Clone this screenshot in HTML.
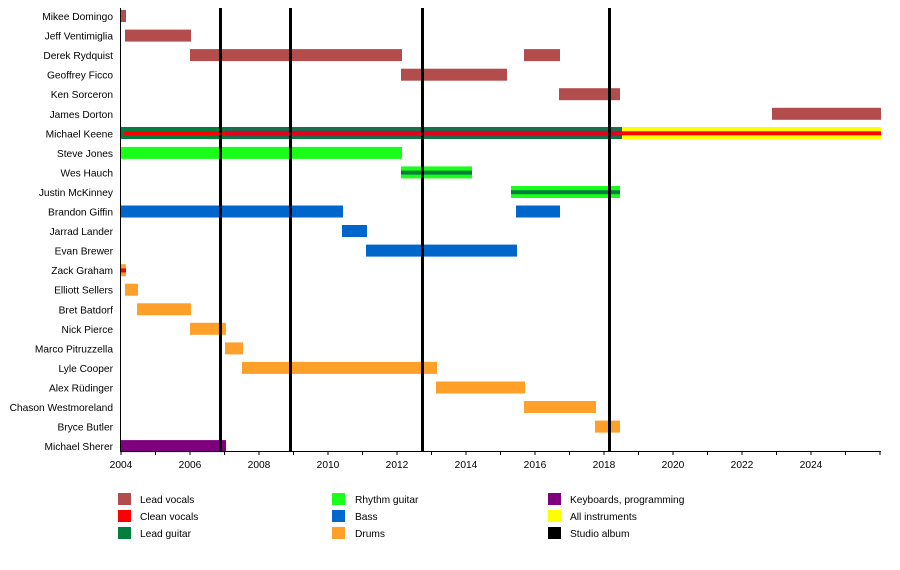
<!DOCTYPE html>
<html><head><meta charset="utf-8"><style>
body{margin:0;background:#fff}
svg{display:block;font-family:"Liberation Sans",sans-serif}
</style></head><body>
<svg width="900" height="570" viewBox="0 0 900 570" xmlns="http://www.w3.org/2000/svg">
<g font-size="10.2" fill="#000" text-anchor="end">
<text x="113" y="20">Mikee Domingo</text>
<text x="113" y="39.6">Jeff Ventimiglia</text>
<text x="113" y="59.1">Derek Rydquist</text>
<text x="113" y="78.7">Geoffrey Ficco</text>
<text x="113" y="98.2">Ken Sorceron</text>
<text x="113" y="117.8">James Dorton</text>
<text x="113" y="137.3">Michael Keene</text>
<text x="113" y="156.9">Steve Jones</text>
<text x="113" y="176.4">Wes Hauch</text>
<text x="113" y="196">Justin McKinney</text>
<text x="113" y="215.5">Brandon Giffin</text>
<text x="113" y="235">Jarrad Lander</text>
<text x="113" y="254.6">Evan Brewer</text>
<text x="113" y="274.2">Zack Graham</text>
<text x="113" y="293.7">Elliott Sellers</text>
<text x="113" y="313.3">Bret Batdorf</text>
<text x="113" y="332.8">Nick Pierce</text>
<text x="113" y="352.4">Marco Pitruzzella</text>
<text x="113" y="371.9">Lyle Cooper</text>
<text x="113" y="391.5">Alex Rüdinger</text>
<text x="113" y="411">Chason Westmoreland</text>
<text x="113" y="430.6">Bryce Butler</text>
<text x="113" y="450.1">Michael Sherer</text>
</g>
<g>
<g fill="#b34d4d">
<rect x="121" y="10" width="5" height="12"/>
<rect x="125" y="29.6" width="66" height="12"/>
<rect x="190" y="49.1" width="212" height="12"/>
<rect x="524" y="49.1" width="36" height="12"/>
<rect x="401" y="68.7" width="106" height="12"/>
<rect x="559" y="88.2" width="61" height="12"/>
<rect x="772" y="107.8" width="109" height="12"/>
</g>
<rect x="121" y="127" width="501" height="12" fill="#007f3f"/>
<rect x="225" y="128.5" width="397" height="9" fill="#4d4d66" opacity="0.6"/>
<rect x="622" y="127" width="259" height="12" fill="#ffff00"/>
<rect x="124" y="131.3" width="757" height="4" fill="#ff0000"/>
<rect x="225" y="131.3" width="397" height="4" fill="#b3003a" opacity="0.4"/>
<g fill="#1aff1a">
<rect x="121" y="146.9" width="281" height="12"/>
<rect x="401" y="166.4" width="71" height="12"/>
<rect x="511" y="186" width="109" height="12"/>
</g>
<rect x="401" y="170.6" width="71" height="4" fill="#007f3f"/>
<rect x="511" y="190.2" width="109" height="4" fill="#007f3f"/>
<g fill="#0066cc">
<rect x="121" y="205.5" width="222" height="12"/>
<rect x="516" y="205.5" width="44" height="12"/>
<rect x="342" y="225" width="25" height="12"/>
<rect x="366" y="244.6" width="151" height="12"/>
</g>
<g fill="#ffa02a">
<rect x="121" y="264.2" width="5" height="12"/>
<rect x="125" y="283.7" width="13" height="12"/>
<rect x="137" y="303.3" width="54" height="12"/>
<rect x="190" y="322.8" width="36" height="12"/>
<rect x="225" y="342.4" width="18" height="12"/>
<rect x="242" y="361.9" width="195" height="12"/>
<rect x="436" y="381.5" width="89" height="12"/>
<rect x="524" y="401" width="72" height="12"/>
<rect x="595" y="420.6" width="25" height="12"/>
</g>
<rect x="121" y="268.4" width="5" height="4" fill="#ff0000"/>
<rect x="121" y="440.1" width="105" height="12" fill="#7f007f"/>
</g>
<g fill="#000">
<rect x="219" y="8" width="3" height="443"/>
<rect x="289" y="8" width="3" height="443"/>
<rect x="421" y="8" width="3" height="443"/>
<rect x="608" y="8" width="3" height="443"/>
</g>
<line x1="120.5" y1="8" x2="120.5" y2="451" stroke="#000" stroke-width="1"/>
<line x1="120" y1="451.5" x2="881" y2="451.5" stroke="#000" stroke-width="1"/>
<g stroke="#000" stroke-width="1">
<line x1="121" y1="451" x2="121" y2="455"/><line x1="155.5" y1="451" x2="155.5" y2="455"/>
<line x1="190" y1="451" x2="190" y2="455"/><line x1="224.5" y1="451" x2="224.5" y2="455"/>
<line x1="259" y1="451" x2="259" y2="455"/><line x1="293.5" y1="451" x2="293.5" y2="455"/>
<line x1="328" y1="451" x2="328" y2="455"/><line x1="362.5" y1="451" x2="362.5" y2="455"/>
<line x1="397" y1="451" x2="397" y2="455"/><line x1="431.5" y1="451" x2="431.5" y2="455"/>
<line x1="466" y1="451" x2="466" y2="455"/><line x1="500.5" y1="451" x2="500.5" y2="455"/>
<line x1="535" y1="451" x2="535" y2="455"/><line x1="569.5" y1="451" x2="569.5" y2="455"/>
<line x1="604" y1="451" x2="604" y2="455"/><line x1="638.5" y1="451" x2="638.5" y2="455"/>
<line x1="673" y1="451" x2="673" y2="455"/><line x1="707.5" y1="451" x2="707.5" y2="455"/>
<line x1="742" y1="451" x2="742" y2="455"/><line x1="776.5" y1="451" x2="776.5" y2="455"/>
<line x1="811" y1="451" x2="811" y2="455"/><line x1="845.5" y1="451" x2="845.5" y2="455"/>
<line x1="880" y1="451" x2="880" y2="455"/>
</g>
<g font-size="10.2" text-anchor="middle">
<text x="121" y="468">2004</text><text x="190" y="468">2006</text><text x="259" y="468">2008</text>
<text x="328" y="468">2010</text><text x="397" y="468">2012</text><text x="466" y="468">2014</text>
<text x="535" y="468">2016</text><text x="604" y="468">2018</text><text x="673" y="468">2020</text>
<text x="742" y="468">2022</text><text x="811" y="468">2024</text>
</g>
<g font-size="10.2">
<rect x="118" y="493" width="13" height="12" fill="#b34d4d"/><text x="140" y="503">Lead vocals</text>
<rect x="118" y="510" width="13" height="12" fill="#ff0000"/><text x="140" y="520">Clean vocals</text>
<rect x="118" y="527" width="13" height="12" fill="#007f3f"/><text x="140" y="537">Lead guitar</text>
<rect x="332" y="493" width="13" height="12" fill="#1aff1a"/><text x="355" y="503">Rhythm guitar</text>
<rect x="332" y="510" width="13" height="12" fill="#0066cc"/><text x="355" y="520">Bass</text>
<rect x="332" y="527" width="13" height="12" fill="#ffa02a"/><text x="355" y="537">Drums</text>
<rect x="548" y="493" width="13" height="12" fill="#7f007f"/><text x="570" y="503">Keyboards, programming</text>
<rect x="548" y="510" width="13" height="12" fill="#ffff00"/><text x="570" y="520">All instruments</text>
<rect x="548" y="527" width="13" height="12" fill="#000"/><text x="570" y="537">Studio album</text>
</g>
</svg>
</body></html>
